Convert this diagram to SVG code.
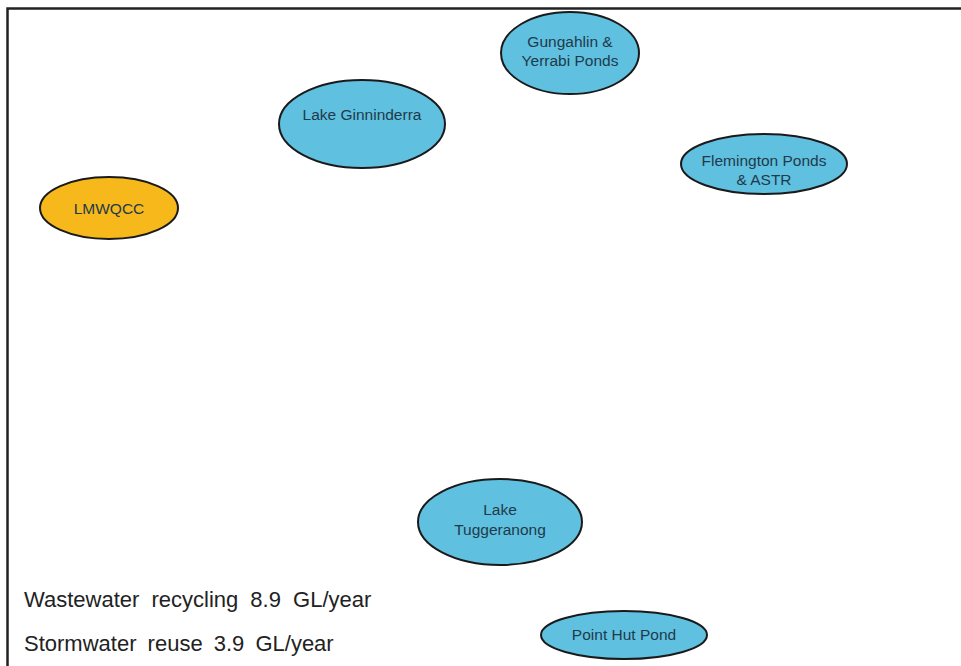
<svg xmlns="http://www.w3.org/2000/svg" width="961" height="666" viewBox="0 0 961 666">
<style>
.n{fill:#5FC0E0;stroke:#1a1a1a;stroke-width:2}
.o{fill:#F6B81A;stroke:#1a1a1a;stroke-width:2}
.t{font-family:"Liberation Sans",Arial,sans-serif;font-size:15.5px;fill:#1F3A4A;text-anchor:middle}
.c{font-family:"Liberation Sans",Arial,sans-serif;font-size:22px;fill:#222}
</style>
<rect width="961" height="666" fill="#fff"/>
<path d="M7.5 666V8.5H961" fill="none" stroke="#222" stroke-width="2.5"/>
<g id="connectors"></g>
<g id="lmwqcc"><ellipse class="o" cx="109" cy="208" rx="69" ry="31"/><text class="t" x="109" y="214">LMWQCC</text></g>
<g id="ginninderra"><ellipse class="n" cx="362" cy="124" rx="83" ry="44"/><text class="t" x="362" y="120">Lake Ginninderra</text></g>
<g id="gungahlin"><ellipse class="n" cx="570" cy="53" rx="69" ry="41"/><text class="t" x="570" y="47">Gungahlin &amp;</text><text class="t" x="570" y="66">Yerrabi Ponds</text></g>
<g id="flemington"><ellipse class="n" cx="764" cy="164" rx="83" ry="30"/><text class="t" x="764" y="166">Flemington Ponds</text><text class="t" x="764" y="185">&amp; ASTR</text></g>
<g id="tuggeranong"><ellipse class="n" cx="500" cy="522" rx="82" ry="43"/><text class="t" x="500" y="515">Lake</text><text class="t" x="500" y="535">Tuggeranong</text></g>
<g id="pointhut"><ellipse class="n" cx="624" cy="635" rx="83" ry="24"/><text class="t" x="624" y="640">Point Hut Pond</text></g>
<text class="c" x="24" y="607" word-spacing="6">Wastewater recycling 8.9 GL/year</text>
<text class="c" x="24" y="651" word-spacing="5">Stormwater reuse 3.9 GL/year</text>
</svg>
